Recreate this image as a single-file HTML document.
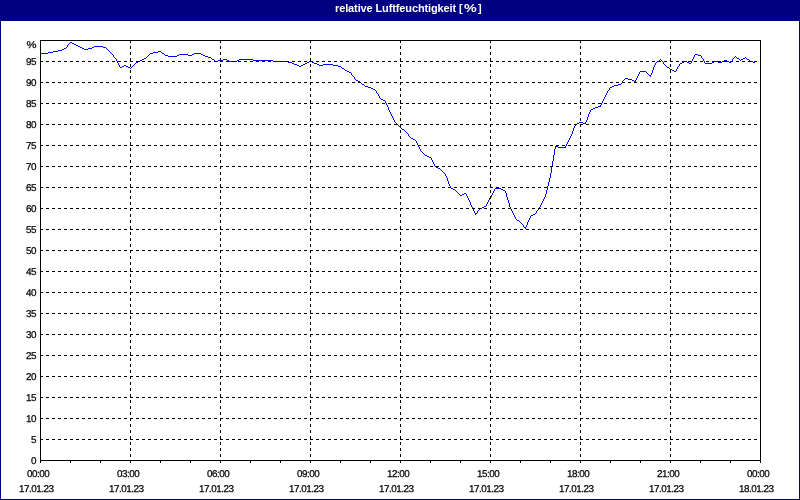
<!DOCTYPE html>
<html><head><meta charset="utf-8"><title>relative Luftfeuchtigkeit</title>
<style>
html,body{margin:0;padding:0;}
body{width:800px;height:500px;position:relative;overflow:hidden;background:#000080;font-family:"Liberation Sans",sans-serif;}
#inner{position:absolute;left:1px;top:21px;width:798px;height:478px;background:#fff;}
#title{position:absolute;left:335px;top:-2px;height:21px;color:#fff;font-weight:bold;font-size:11px;line-height:21px;white-space:nowrap;will-change:transform;}
#tt{letter-spacing:-0.12px;}
.yl{position:absolute;left:0;width:36px;text-align:right;font-size:9.9px;line-height:12px;height:12px;color:#000;letter-spacing:-0.5px;text-rendering:geometricPrecision;white-space:nowrap;}
.xt,.xd{position:absolute;width:82px;text-align:left;font-size:9.9px;line-height:12px;height:12px;color:#000;letter-spacing:-0.5px;text-rendering:geometricPrecision;white-space:nowrap;padding-left:30px;box-sizing:border-box;}
#labels{position:absolute;left:0;top:0;width:800px;height:500px;will-change:transform;-webkit-text-stroke:0.25px #000;}
.xt{top:469px;}
.xd{top:484px;}
</style></head><body>
<div id="inner"></div>
<div id="title"><span id="tt">relative Luftfeuchtigkeit </span><span style="letter-spacing:1.2px">[</span><span style="display:inline-block;transform:scaleX(1.3);transform-origin:0 50%;letter-spacing:4.2px">%</span><span style="letter-spacing:0">]</span></div>
<svg width="800" height="500" viewBox="0 0 800 500" shape-rendering="crispEdges" style="position:absolute;left:0;top:0">
<path fill="#0000ff" d="M70 42h2v1h-2zM69 43h1v1h-1zM72 43h2v1h-2zM68 44h1v1h-1zM74 44h2v1h-2zM67 45h1v1h-1zM76 45h2v1h-2zM67 46h1v1h-1zM78 46h2v1h-2zM94 46h9v1h-9zM66 47h1v1h-1zM80 47h2v1h-2zM92 47h2v1h-2zM103 47h3v1h-3zM64 48h2v1h-2zM82 48h2v1h-2zM88 48h4v1h-4zM106 48h1v1h-1zM62 49h2v1h-2zM84 49h4v1h-4zM107 49h1v1h-1zM58 50h4v1h-4zM108 50h1v1h-1zM53 51h5v1h-5zM109 51h1v1h-1zM158 51h3v1h-3zM48 52h5v1h-5zM110 52h1v1h-1zM153 52h5v1h-5zM161 52h1v1h-1zM40 53h8v1h-8zM111 53h1v1h-1zM150 53h3v1h-3zM162 53h2v1h-2zM194 53h7v1h-7zM112 54h1v1h-1zM149 54h1v1h-1zM164 54h1v1h-1zM179 54h9v1h-9zM192 54h2v1h-2zM201 54h2v1h-2zM695 54h3v1h-3zM113 55h1v1h-1zM148 55h1v1h-1zM165 55h3v1h-3zM177 55h2v1h-2zM188 55h4v1h-4zM203 55h2v1h-2zM694 55h1v1h-1zM698 55h3v1h-3zM113 56h1v1h-1zM147 56h1v1h-1zM168 56h9v1h-9zM205 56h3v1h-3zM694 56h1v1h-1zM701 56h1v1h-1zM735 56h1v1h-1zM114 57h1v1h-1zM146 57h1v1h-1zM208 57h3v1h-3zM693 57h1v1h-1zM701 57h1v1h-1zM734 57h1v1h-1zM736 57h1v1h-1zM745 57h1v1h-1zM115 58h1v1h-1zM144 58h2v1h-2zM211 58h1v1h-1zM693 58h1v1h-1zM702 58h1v1h-1zM733 58h1v1h-1zM737 58h2v1h-2zM743 58h2v1h-2zM746 58h1v1h-1zM116 59h1v1h-1zM142 59h2v1h-2zM212 59h2v1h-2zM223 59h4v1h-4zM239 59h14v1h-14zM660 59h1v1h-1zM692 59h1v1h-1zM703 59h1v1h-1zM732 59h1v1h-1zM739 59h1v1h-1zM741 59h2v1h-2zM747 59h2v1h-2zM116 60h1v1h-1zM140 60h2v1h-2zM214 60h1v1h-1zM218 60h5v1h-5zM227 60h2v1h-2zM237 60h2v1h-2zM253 60h20v1h-20zM659 60h1v1h-1zM661 60h1v1h-1zM692 60h1v1h-1zM703 60h1v1h-1zM724 60h3v1h-3zM732 60h1v1h-1zM740 60h1v1h-1zM749 60h1v1h-1zM117 61h1v1h-1zM138 61h2v1h-2zM215 61h3v1h-3zM229 61h8v1h-8zM273 61h15v1h-15zM309 61h3v1h-3zM657 61h2v1h-2zM662 61h1v1h-1zM684 61h3v1h-3zM691 61h1v1h-1zM704 61h1v1h-1zM714 61h4v1h-4zM722 61h2v1h-2zM727 61h2v1h-2zM731 61h1v1h-1zM750 61h3v1h-3zM117 62h1v1h-1zM136 62h2v1h-2zM288 62h4v1h-4zM307 62h2v1h-2zM312 62h2v1h-2zM656 62h1v1h-1zM663 62h1v1h-1zM682 62h2v1h-2zM687 62h2v1h-2zM691 62h1v1h-1zM704 62h1v1h-1zM712 62h2v1h-2zM718 62h4v1h-4zM729 62h2v1h-2zM753 62h2v1h-2zM118 63h1v1h-1zM135 63h1v1h-1zM292 63h2v1h-2zM305 63h2v1h-2zM314 63h3v1h-3zM655 63h1v1h-1zM663 63h1v1h-1zM680 63h2v1h-2zM689 63h2v1h-2zM705 63h7v1h-7zM118 64h1v1h-1zM134 64h1v1h-1zM294 64h3v1h-3zM303 64h2v1h-2zM317 64h2v1h-2zM323 64h10v1h-10zM655 64h1v1h-1zM664 64h1v1h-1zM679 64h1v1h-1zM119 65h1v1h-1zM124 65h2v1h-2zM133 65h1v1h-1zM297 65h2v1h-2zM301 65h2v1h-2zM319 65h4v1h-4zM333 65h5v1h-5zM654 65h1v1h-1zM665 65h1v1h-1zM679 65h1v1h-1zM119 66h1v1h-1zM122 66h2v1h-2zM126 66h2v1h-2zM132 66h1v1h-1zM299 66h2v1h-2zM338 66h3v1h-3zM654 66h1v1h-1zM666 66h1v1h-1zM678 66h1v1h-1zM120 67h2v1h-2zM128 67h2v1h-2zM131 67h1v1h-1zM341 67h1v1h-1zM653 67h1v1h-1zM667 67h2v1h-2zM677 67h1v1h-1zM130 68h1v1h-1zM342 68h2v1h-2zM653 68h1v1h-1zM669 68h1v1h-1zM677 68h1v1h-1zM344 69h1v1h-1zM653 69h1v1h-1zM670 69h2v1h-2zM676 69h1v1h-1zM345 70h2v1h-2zM652 70h1v1h-1zM672 70h2v1h-2zM676 70h1v1h-1zM347 71h2v1h-2zM640 71h6v1h-6zM652 71h1v1h-1zM674 71h2v1h-2zM349 72h2v1h-2zM639 72h1v1h-1zM646 72h1v1h-1zM652 72h1v1h-1zM351 73h1v1h-1zM639 73h1v1h-1zM647 73h1v1h-1zM651 73h1v1h-1zM351 74h1v1h-1zM638 74h1v1h-1zM648 74h1v1h-1zM651 74h1v1h-1zM352 75h1v1h-1zM638 75h1v1h-1zM649 75h2v1h-2zM353 76h1v1h-1zM637 76h1v1h-1zM650 76h1v1h-1zM354 77h1v1h-1zM637 77h1v1h-1zM354 78h1v1h-1zM625 78h3v1h-3zM636 78h1v1h-1zM355 79h1v1h-1zM624 79h1v1h-1zM628 79h4v1h-4zM636 79h1v1h-1zM356 80h2v1h-2zM623 80h1v1h-1zM632 80h2v1h-2zM635 80h1v1h-1zM358 81h2v1h-2zM622 81h1v1h-1zM634 81h2v1h-2zM360 82h1v1h-1zM622 82h1v1h-1zM361 83h1v1h-1zM621 83h1v1h-1zM362 84h2v1h-2zM618 84h3v1h-3zM364 85h1v1h-1zM614 85h4v1h-4zM365 86h3v1h-3zM612 86h2v1h-2zM368 87h3v1h-3zM610 87h2v1h-2zM371 88h2v1h-2zM609 88h1v1h-1zM373 89h2v1h-2zM609 89h1v1h-1zM375 90h1v1h-1zM608 90h1v1h-1zM376 91h1v1h-1zM607 91h1v1h-1zM376 92h1v1h-1zM607 92h1v1h-1zM377 93h1v1h-1zM606 93h1v1h-1zM378 94h1v1h-1zM606 94h1v1h-1zM378 95h1v1h-1zM605 95h1v1h-1zM379 96h1v1h-1zM605 96h1v1h-1zM379 97h1v1h-1zM604 97h1v1h-1zM380 98h1v1h-1zM604 98h1v1h-1zM381 99h2v1h-2zM603 99h1v1h-1zM383 100h2v1h-2zM603 100h1v1h-1zM385 101h1v1h-1zM602 101h1v1h-1zM385 102h1v1h-1zM602 102h1v1h-1zM386 103h1v1h-1zM601 103h1v1h-1zM386 104h1v1h-1zM601 104h1v1h-1zM387 105h1v1h-1zM600 105h1v1h-1zM387 106h1v1h-1zM598 106h3v1h-3zM388 107h1v1h-1zM595 107h3v1h-3zM388 108h1v1h-1zM593 108h2v1h-2zM388 109h1v1h-1zM591 109h2v1h-2zM389 110h1v1h-1zM590 110h1v1h-1zM389 111h1v1h-1zM590 111h1v1h-1zM390 112h1v1h-1zM589 112h1v1h-1zM390 113h1v1h-1zM589 113h1v1h-1zM391 114h1v1h-1zM588 114h1v1h-1zM391 115h1v1h-1zM588 115h1v1h-1zM392 116h1v1h-1zM588 116h1v1h-1zM392 117h1v1h-1zM587 117h1v1h-1zM393 118h1v1h-1zM587 118h1v1h-1zM393 119h1v1h-1zM587 119h1v1h-1zM394 120h1v1h-1zM586 120h1v1h-1zM394 121h1v1h-1zM586 121h1v1h-1zM395 122h1v1h-1zM579 122h4v1h-4zM585 122h1v1h-1zM396 123h1v1h-1zM577 123h2v1h-2zM583 123h3v1h-3zM397 124h1v1h-1zM575 124h2v1h-2zM398 125h1v1h-1zM575 125h1v1h-1zM399 126h1v1h-1zM574 126h1v1h-1zM400 127h1v1h-1zM574 127h1v1h-1zM401 128h1v1h-1zM573 128h1v1h-1zM402 129h2v1h-2zM573 129h1v1h-1zM404 130h1v1h-1zM573 130h1v1h-1zM405 131h1v1h-1zM572 131h1v1h-1zM406 132h1v1h-1zM572 132h1v1h-1zM407 133h1v1h-1zM572 133h1v1h-1zM408 134h1v1h-1zM571 134h1v1h-1zM408 135h1v1h-1zM571 135h1v1h-1zM409 136h1v1h-1zM570 136h1v1h-1zM410 137h1v1h-1zM570 137h1v1h-1zM411 138h2v1h-2zM569 138h1v1h-1zM413 139h2v1h-2zM569 139h1v1h-1zM415 140h1v1h-1zM568 140h1v1h-1zM416 141h1v1h-1zM568 141h1v1h-1zM416 142h1v1h-1zM567 142h1v1h-1zM417 143h1v1h-1zM567 143h1v1h-1zM417 144h1v1h-1zM566 144h1v1h-1zM418 145h1v1h-1zM566 145h1v1h-1zM418 146h1v1h-1zM555 146h3v1h-3zM565 146h1v1h-1zM419 147h1v1h-1zM555 147h1v1h-1zM558 147h8v1h-8zM419 148h1v1h-1zM555 148h1v1h-1zM420 149h1v1h-1zM554 149h1v1h-1zM420 150h1v1h-1zM554 150h1v1h-1zM421 151h1v1h-1zM554 151h1v1h-1zM422 152h1v1h-1zM554 152h1v1h-1zM423 153h1v1h-1zM554 153h1v1h-1zM424 154h1v1h-1zM554 154h1v1h-1zM425 155h2v1h-2zM553 155h1v1h-1zM427 156h2v1h-2zM553 156h1v1h-1zM429 157h2v1h-2zM553 157h1v1h-1zM431 158h1v1h-1zM553 158h1v1h-1zM431 159h1v1h-1zM553 159h1v1h-1zM432 160h1v1h-1zM553 160h1v1h-1zM432 161h1v1h-1zM552 161h1v1h-1zM433 162h1v1h-1zM552 162h1v1h-1zM433 163h1v1h-1zM552 163h1v1h-1zM434 164h1v1h-1zM552 164h1v1h-1zM434 165h1v1h-1zM552 165h1v1h-1zM435 166h1v1h-1zM552 166h1v1h-1zM436 167h2v1h-2zM551 167h1v1h-1zM438 168h2v1h-2zM551 168h1v1h-1zM440 169h1v1h-1zM551 169h1v1h-1zM441 170h1v1h-1zM551 170h1v1h-1zM442 171h1v1h-1zM551 171h1v1h-1zM443 172h1v1h-1zM551 172h1v1h-1zM444 173h1v1h-1zM550 173h1v1h-1zM445 174h1v1h-1zM550 174h1v1h-1zM445 175h1v1h-1zM550 175h1v1h-1zM446 176h1v1h-1zM550 176h1v1h-1zM446 177h1v1h-1zM550 177h1v1h-1zM447 178h1v1h-1zM549 178h1v1h-1zM447 179h1v1h-1zM549 179h1v1h-1zM447 180h1v1h-1zM549 180h1v1h-1zM448 181h1v1h-1zM549 181h1v1h-1zM448 182h1v1h-1zM548 182h1v1h-1zM448 183h1v1h-1zM548 183h1v1h-1zM449 184h1v1h-1zM548 184h1v1h-1zM449 185h1v1h-1zM548 185h1v1h-1zM450 186h1v1h-1zM547 186h1v1h-1zM450 187h1v1h-1zM547 187h1v1h-1zM451 188h2v1h-2zM495 188h6v1h-6zM547 188h1v1h-1zM453 189h2v1h-2zM494 189h1v1h-1zM501 189h2v1h-2zM547 189h1v1h-1zM455 190h1v1h-1zM494 190h1v1h-1zM503 190h2v1h-2zM546 190h1v1h-1zM456 191h1v1h-1zM493 191h1v1h-1zM505 191h1v1h-1zM546 191h1v1h-1zM457 192h1v1h-1zM493 192h1v1h-1zM505 192h1v1h-1zM546 192h1v1h-1zM458 193h1v1h-1zM464 193h2v1h-2zM492 193h1v1h-1zM506 193h1v1h-1zM546 193h1v1h-1zM459 194h1v1h-1zM462 194h2v1h-2zM466 194h1v1h-1zM492 194h1v1h-1zM506 194h1v1h-1zM545 194h1v1h-1zM460 195h2v1h-2zM466 195h1v1h-1zM491 195h1v1h-1zM506 195h1v1h-1zM545 195h1v1h-1zM467 196h1v1h-1zM491 196h1v1h-1zM506 196h1v1h-1zM545 196h1v1h-1zM467 197h1v1h-1zM490 197h1v1h-1zM507 197h1v1h-1zM544 197h1v1h-1zM468 198h1v1h-1zM489 198h1v1h-1zM507 198h1v1h-1zM544 198h1v1h-1zM468 199h1v1h-1zM489 199h1v1h-1zM507 199h1v1h-1zM543 199h1v1h-1zM469 200h1v1h-1zM488 200h1v1h-1zM508 200h1v1h-1zM543 200h1v1h-1zM469 201h1v1h-1zM488 201h1v1h-1zM508 201h1v1h-1zM542 201h1v1h-1zM470 202h1v1h-1zM487 202h1v1h-1zM508 202h1v1h-1zM542 202h1v1h-1zM470 203h1v1h-1zM487 203h1v1h-1zM509 203h1v1h-1zM541 203h1v1h-1zM470 204h1v1h-1zM486 204h1v1h-1zM509 204h1v1h-1zM541 204h1v1h-1zM471 205h1v1h-1zM486 205h1v1h-1zM509 205h1v1h-1zM540 205h1v1h-1zM471 206h1v1h-1zM484 206h2v1h-2zM509 206h1v1h-1zM540 206h1v1h-1zM472 207h1v1h-1zM482 207h2v1h-2zM510 207h1v1h-1zM539 207h1v1h-1zM472 208h1v1h-1zM480 208h2v1h-2zM510 208h1v1h-1zM539 208h1v1h-1zM473 209h1v1h-1zM479 209h1v1h-1zM511 209h1v1h-1zM538 209h1v1h-1zM473 210h1v1h-1zM478 210h1v1h-1zM511 210h1v1h-1zM537 210h1v1h-1zM474 211h1v1h-1zM477 211h1v1h-1zM512 211h1v1h-1zM536 211h1v1h-1zM474 212h1v1h-1zM477 212h1v1h-1zM512 212h1v1h-1zM536 212h1v1h-1zM475 213h2v1h-2zM513 213h1v1h-1zM535 213h1v1h-1zM475 214h1v1h-1zM513 214h1v1h-1zM533 214h2v1h-2zM514 215h1v1h-1zM531 215h2v1h-2zM514 216h1v1h-1zM530 216h1v1h-1zM515 217h1v1h-1zM530 217h1v1h-1zM515 218h1v1h-1zM529 218h1v1h-1zM516 219h1v1h-1zM529 219h1v1h-1zM517 220h2v1h-2zM528 220h1v1h-1zM519 221h1v1h-1zM528 221h1v1h-1zM520 222h1v1h-1zM527 222h1v1h-1zM521 223h1v1h-1zM527 223h1v1h-1zM522 224h1v1h-1zM527 224h1v1h-1zM523 225h1v1h-1zM526 225h1v1h-1zM523 226h1v1h-1zM526 226h1v1h-1zM524 227h2v1h-2zM525 228h1v1h-1z"/>
<line x1="40" y1="439.5" x2="760" y2="439.5" stroke="#000" stroke-width="1" stroke-dasharray="3 3"/>
<line x1="40" y1="418.5" x2="760" y2="418.5" stroke="#000" stroke-width="1" stroke-dasharray="3 3"/>
<line x1="40" y1="397.5" x2="760" y2="397.5" stroke="#000" stroke-width="1" stroke-dasharray="3 3"/>
<line x1="40" y1="376.5" x2="760" y2="376.5" stroke="#000" stroke-width="1" stroke-dasharray="3 3"/>
<line x1="40" y1="355.5" x2="760" y2="355.5" stroke="#000" stroke-width="1" stroke-dasharray="3 3"/>
<line x1="40" y1="334.5" x2="760" y2="334.5" stroke="#000" stroke-width="1" stroke-dasharray="3 3"/>
<line x1="40" y1="313.5" x2="760" y2="313.5" stroke="#000" stroke-width="1" stroke-dasharray="3 3"/>
<line x1="40" y1="292.5" x2="760" y2="292.5" stroke="#000" stroke-width="1" stroke-dasharray="3 3"/>
<line x1="40" y1="271.5" x2="760" y2="271.5" stroke="#000" stroke-width="1" stroke-dasharray="3 3"/>
<line x1="40" y1="250.5" x2="760" y2="250.5" stroke="#000" stroke-width="1" stroke-dasharray="3 3"/>
<line x1="40" y1="229.5" x2="760" y2="229.5" stroke="#000" stroke-width="1" stroke-dasharray="3 3"/>
<line x1="40" y1="208.5" x2="760" y2="208.5" stroke="#000" stroke-width="1" stroke-dasharray="3 3"/>
<line x1="40" y1="187.5" x2="760" y2="187.5" stroke="#000" stroke-width="1" stroke-dasharray="3 3"/>
<line x1="40" y1="166.5" x2="760" y2="166.5" stroke="#000" stroke-width="1" stroke-dasharray="3 3"/>
<line x1="40" y1="145.5" x2="760" y2="145.5" stroke="#000" stroke-width="1" stroke-dasharray="3 3"/>
<line x1="40" y1="124.5" x2="760" y2="124.5" stroke="#000" stroke-width="1" stroke-dasharray="3 3"/>
<line x1="40" y1="103.5" x2="760" y2="103.5" stroke="#000" stroke-width="1" stroke-dasharray="3 3"/>
<line x1="40" y1="82.5" x2="760" y2="82.5" stroke="#000" stroke-width="1" stroke-dasharray="3 3"/>
<line x1="40" y1="61.5" x2="760" y2="61.5" stroke="#000" stroke-width="1" stroke-dasharray="3 3"/>
<line x1="130.5" y1="40" x2="130.5" y2="460" stroke="#000" stroke-width="1" stroke-dasharray="3 3"/>
<line x1="220.5" y1="40" x2="220.5" y2="460" stroke="#000" stroke-width="1" stroke-dasharray="3 3"/>
<line x1="310.5" y1="40" x2="310.5" y2="460" stroke="#000" stroke-width="1" stroke-dasharray="3 3"/>
<line x1="400.5" y1="40" x2="400.5" y2="460" stroke="#000" stroke-width="1" stroke-dasharray="3 3"/>
<line x1="490.5" y1="40" x2="490.5" y2="460" stroke="#000" stroke-width="1" stroke-dasharray="3 3"/>
<line x1="580.5" y1="40" x2="580.5" y2="460" stroke="#000" stroke-width="1" stroke-dasharray="3 3"/>
<line x1="670.5" y1="40" x2="670.5" y2="460" stroke="#000" stroke-width="1" stroke-dasharray="3 3"/>
<rect x="40.5" y="40.5" width="720" height="420" fill="none" stroke="#000" stroke-width="1"/>
<line x1="40.5" y1="460" x2="40.5" y2="463" stroke="#000" stroke-width="1"/>
<line x1="70.5" y1="460" x2="70.5" y2="463" stroke="#000" stroke-width="1"/>
<line x1="100.5" y1="460" x2="100.5" y2="463" stroke="#000" stroke-width="1"/>
<line x1="130.5" y1="460" x2="130.5" y2="463" stroke="#000" stroke-width="1"/>
<line x1="160.5" y1="460" x2="160.5" y2="463" stroke="#000" stroke-width="1"/>
<line x1="190.5" y1="460" x2="190.5" y2="463" stroke="#000" stroke-width="1"/>
<line x1="220.5" y1="460" x2="220.5" y2="463" stroke="#000" stroke-width="1"/>
<line x1="250.5" y1="460" x2="250.5" y2="463" stroke="#000" stroke-width="1"/>
<line x1="280.5" y1="460" x2="280.5" y2="463" stroke="#000" stroke-width="1"/>
<line x1="310.5" y1="460" x2="310.5" y2="463" stroke="#000" stroke-width="1"/>
<line x1="340.5" y1="460" x2="340.5" y2="463" stroke="#000" stroke-width="1"/>
<line x1="370.5" y1="460" x2="370.5" y2="463" stroke="#000" stroke-width="1"/>
<line x1="400.5" y1="460" x2="400.5" y2="463" stroke="#000" stroke-width="1"/>
<line x1="430.5" y1="460" x2="430.5" y2="463" stroke="#000" stroke-width="1"/>
<line x1="460.5" y1="460" x2="460.5" y2="463" stroke="#000" stroke-width="1"/>
<line x1="490.5" y1="460" x2="490.5" y2="463" stroke="#000" stroke-width="1"/>
<line x1="520.5" y1="460" x2="520.5" y2="463" stroke="#000" stroke-width="1"/>
<line x1="550.5" y1="460" x2="550.5" y2="463" stroke="#000" stroke-width="1"/>
<line x1="580.5" y1="460" x2="580.5" y2="463" stroke="#000" stroke-width="1"/>
<line x1="610.5" y1="460" x2="610.5" y2="463" stroke="#000" stroke-width="1"/>
<line x1="640.5" y1="460" x2="640.5" y2="463" stroke="#000" stroke-width="1"/>
<line x1="670.5" y1="460" x2="670.5" y2="463" stroke="#000" stroke-width="1"/>
<line x1="700.5" y1="460" x2="700.5" y2="463" stroke="#000" stroke-width="1"/>
<line x1="730.5" y1="460" x2="730.5" y2="463" stroke="#000" stroke-width="1"/>
<line x1="760.5" y1="460" x2="760.5" y2="463" stroke="#000" stroke-width="1"/>
</svg>
<div id="labels">
<div class="yl" style="top:456px">0</div>
<div class="yl" style="top:435px">5</div>
<div class="yl" style="top:414px">10</div>
<div class="yl" style="top:393px">15</div>
<div class="yl" style="top:372px">20</div>
<div class="yl" style="top:351px">25</div>
<div class="yl" style="top:330px">30</div>
<div class="yl" style="top:309px">35</div>
<div class="yl" style="top:288px">40</div>
<div class="yl" style="top:267px">45</div>
<div class="yl" style="top:246px">50</div>
<div class="yl" style="top:225px">55</div>
<div class="yl" style="top:204px">60</div>
<div class="yl" style="top:183px">65</div>
<div class="yl" style="top:162px">70</div>
<div class="yl" style="top:141px">75</div>
<div class="yl" style="top:120px">80</div>
<div class="yl" style="top:99px">85</div>
<div class="yl" style="top:78px">90</div>
<div class="yl" style="top:57px">95</div>
<div class="yl" style="top:40px;transform:scaleX(1.14);transform-origin:100% 50%">%</div>
<div class="xt" style="left:-3px">00:00</div>
<div class="xd" style="left:-11px">17.01.23</div>
<div class="xt" style="left:87px">03:00</div>
<div class="xd" style="left:79px">17.01.23</div>
<div class="xt" style="left:177px">06:00</div>
<div class="xd" style="left:169px">17.01.23</div>
<div class="xt" style="left:267px">09:00</div>
<div class="xd" style="left:259px">17.01.23</div>
<div class="xt" style="left:357px">12:00</div>
<div class="xd" style="left:349px">17.01.23</div>
<div class="xt" style="left:447px">15:00</div>
<div class="xd" style="left:439px">17.01.23</div>
<div class="xt" style="left:537px">18:00</div>
<div class="xd" style="left:529px">17.01.23</div>
<div class="xt" style="left:627px">21:00</div>
<div class="xd" style="left:619px">17.01.23</div>
<div class="xt" style="left:717px">00:00</div>
<div class="xd" style="left:709px">18.01.23</div>
</div>
</body></html>
